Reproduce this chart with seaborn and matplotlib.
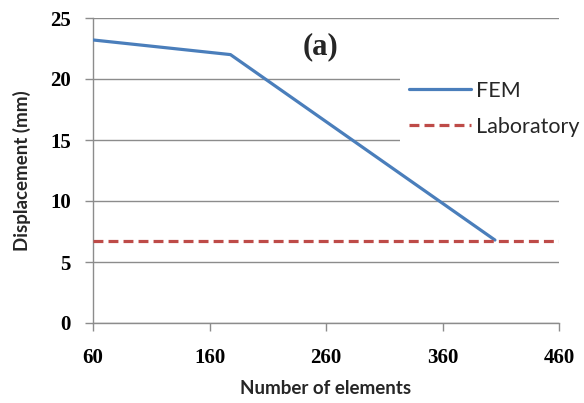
import matplotlib
matplotlib.use("Agg")
import matplotlib.pyplot as plt
import seaborn as sns
import pandas as pd

# Data
fem_x = [60, 178, 405]
fem_y = [23.2, 22.0, 6.8]
lab_x = [60, 460]
lab_y = [6.75, 6.75]
x_ticks = [60, 160, 260, 360, 460]
y_ticks = [0, 5, 10, 15, 20, 25]

sns.set_theme(style="white")

fig = plt.figure(figsize=(5.84, 4.03), dpi=100)
ax = fig.add_axes([93/584, 1 - 323/403, (559-93)/584, (323-18)/403])

fem_df = pd.DataFrame({"x": fem_x, "y": fem_y})
lab_df = pd.DataFrame({"x": lab_x, "y": lab_y})

sns.lineplot(data=fem_df, x="x", y="y", ax=ax, color="#4A7EBB", lw=2.3,
             label="FEM", zorder=3)
sns.lineplot(data=lab_df, x="x", y="y", ax=ax, color="#BE4B48", lw=2.3,
             label="Laboratory", zorder=3)
ax.lines[1].set_dashes((3.1, 1.6))

ax.set_xlim(60, 460)
ax.set_ylim(0, 25)
ax.set_xticks(x_ticks)
ax.set_yticks(y_ticks)
ax.set_xticklabels([str(t) for t in x_ticks])
ax.set_yticklabels([str(t) for t in y_ticks])

for lbl in ax.get_xticklabels() + ax.get_yticklabels():
    lbl.set_fontfamily("Liberation Serif")
    lbl.set_fontweight("bold")
    lbl.set_fontsize(15)
    lbl.set_color("#000000")

ax.grid(axis="y", color="#8c8c8c", lw=1.0, zorder=0)
ax.grid(axis="x", visible=False)
ax.set_axisbelow(True)
for s in ["top", "right"]:
    ax.spines[s].set_visible(False)
for s in ["left", "bottom"]:
    ax.spines[s].set_color("#8c8c8c")
    ax.spines[s].set_linewidth(1.0)
ax.tick_params(axis="both", which="both", direction="out", length=6,
               width=1.0, color="#8c8c8c", pad=10, left=True, bottom=True)
ax.tick_params(axis="x", pad=12)

ax.set_xlabel("Number of elements", fontfamily="Lato", fontweight="bold",
              fontsize=13.5, labelpad=9)
ax.set_ylabel("Displacement (mm)", fontfamily="Lato", fontweight="bold",
              fontsize=13.5, labelpad=14)

ax.text(321/584, 1 - 47/403, "(a)", transform=fig.transFigure,
        ha="center", va="center", fontfamily="Liberation Serif",
        fontweight="bold", fontsize=22)

leg = ax.legend(loc="upper left", bbox_to_anchor=(400/584, 1 - 72/403),
                bbox_transform=fig.transFigure, frameon=True,
                fancybox=False, handlelength=2.9, handletextpad=0.25,
                labelspacing=0.75, borderpad=0.4, borderaxespad=0,
                prop={"family": "Lato", "size": 15.5})
leg.get_frame().set_facecolor("white")
leg.get_frame().set_edgecolor("none")
leg.get_frame().set_alpha(1.0)
leg.set_zorder(5)

fig.savefig("out.png", dpi=100)
